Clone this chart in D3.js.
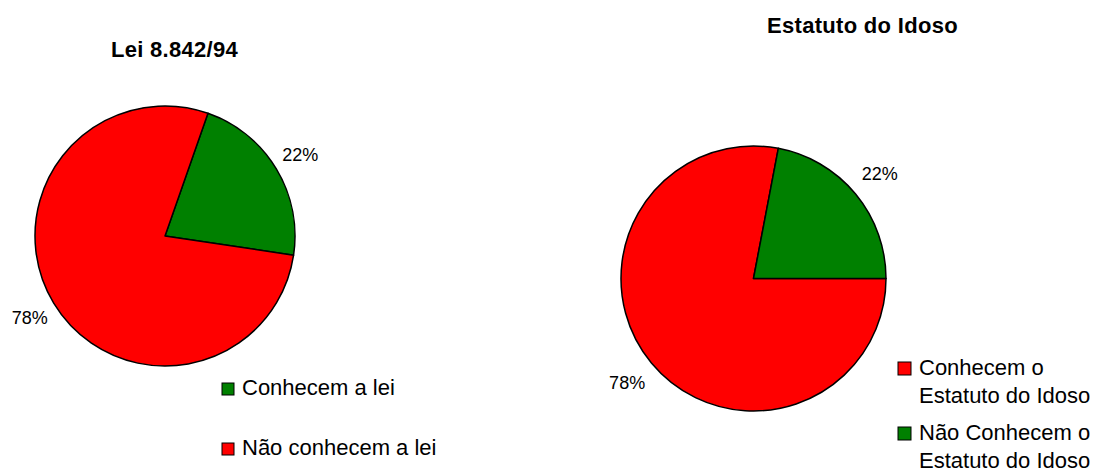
<!DOCTYPE html>
<html>
<head>
<meta charset="utf-8">
<script src="https://cdn.jsdelivr.net/npm/d3@7"></script>
<style>
  body { margin: 0; background: #fff; }
  svg { font-family: "Liberation Sans", Arial, sans-serif; display: block; }
</style>
</head>
<body>
<svg id="chart"></svg>
<script>
// left chart
const leiTitle = "Lei 8.842/94";
const leiCategories = ["Conhecem a lei", "Não conhecem a lei"];
const leiValues = [22, 78];
const leiColors = ["#008000", "#ff0000"];

// right chart
const estatutoTitle = "Estatuto do Idoso";
const estatutoCategories = [["Conhecem o", "Estatuto do Idoso"], ["Não Conhecem o", "Estatuto do Idoso"]];
const estatutoValues = [78, 22];
const estatutoColors = ["#ff0000", "#008000"];

const width = 1106,
  height = 469;

const svg = d3.select("#chart").attr("width", width).attr("height", height);

function drawPie(opts) {
  const g = svg.append("g").attr("transform", `translate(${opts.cx}, ${opts.cy})`);

  const pie = d3
    .pie()
    .sort(null)
    .value((d) => d)
    .startAngle(opts.start)
    .endAngle(opts.start + 2 * Math.PI);

  const data_ready = pie(opts.values);

  const arcGenerator = d3.arc().innerRadius(0).outerRadius(opts.r);
  const labelArc = d3.arc().innerRadius(opts.labelR).outerRadius(opts.labelR);

  g.selectAll("path")
    .data(data_ready)
    .join("path")
    .attr("d", arcGenerator)
    .attr("fill", (d, i) => opts.colors[i])
    .attr("stroke", "black")
    .style("stroke-width", "1.5px")
    .style("stroke-linejoin", "round");

  g.selectAll("text.pct")
    .data(data_ready)
    .join("text")
    .attr("class", "pct")
    .attr("transform", (d) => `translate(${labelArc.centroid(d)})`)
    .attr("text-anchor", "middle")
    .attr("dy", "0.35em")
    .style("font-size", "18px")
    .text((d) => d.data + "%");

  svg
    .append("text")
    .attr("x", opts.titleX)
    .attr("y", opts.titleY)
    .attr("text-anchor", "middle")
    .style("font-size", "22px")
    .style("font-weight", "bold")
    .style("letter-spacing", "0.3px")
    .text(opts.title);

  const legend = svg
    .selectAll(null)
    .data(opts.categories)
    .join("g")
    .attr("transform", (d, i) => `translate(${opts.legX}, ${opts.legY + i * opts.legStep})`);

  legend
    .append("rect")
    .attr("x", 0)
    .attr("y", -opts.box)
    .attr("width", opts.box)
    .attr("height", opts.box)
    .attr("fill", (d, i) => opts.colors[i])
    .attr("stroke", "black")
    .attr("stroke-width", 1);

  legend
    .append("text")
    .attr("x", opts.box + 8)
    .attr("y", 0)
    .style("font-size", "22px")
    .selectAll("tspan")
    .data((d) => (Array.isArray(d) ? d : [d]))
    .join("tspan")
    .attr("x", opts.box + 8)
    .attr("dy", (d, i) => (i === 0 ? 0 : 28))
    .text((d) => d);
}

drawPie({
  cx: 165,
  cy: 236,
  r: 130,
  labelR: 158,
  start: (19.3 * Math.PI) / 180,
  values: leiValues,
  colors: leiColors,
  categories: leiCategories,
  title: leiTitle,
  titleX: 174.5,
  titleY: 56.5,
  legX: 222,
  legY: 395,
  legStep: 60,
  box: 12
});

drawPie({
  cx: 753.5,
  cy: 278.5,
  r: 132.5,
  labelR: 164,
  start: Math.PI / 2,
  values: estatutoValues,
  colors: estatutoColors,
  categories: estatutoCategories,
  title: estatutoTitle,
  titleX: 862.5,
  titleY: 33.3,
  legX: 898,
  legY: 375,
  legStep: 65,
  box: 13
});
</script>
</body>
</html>
